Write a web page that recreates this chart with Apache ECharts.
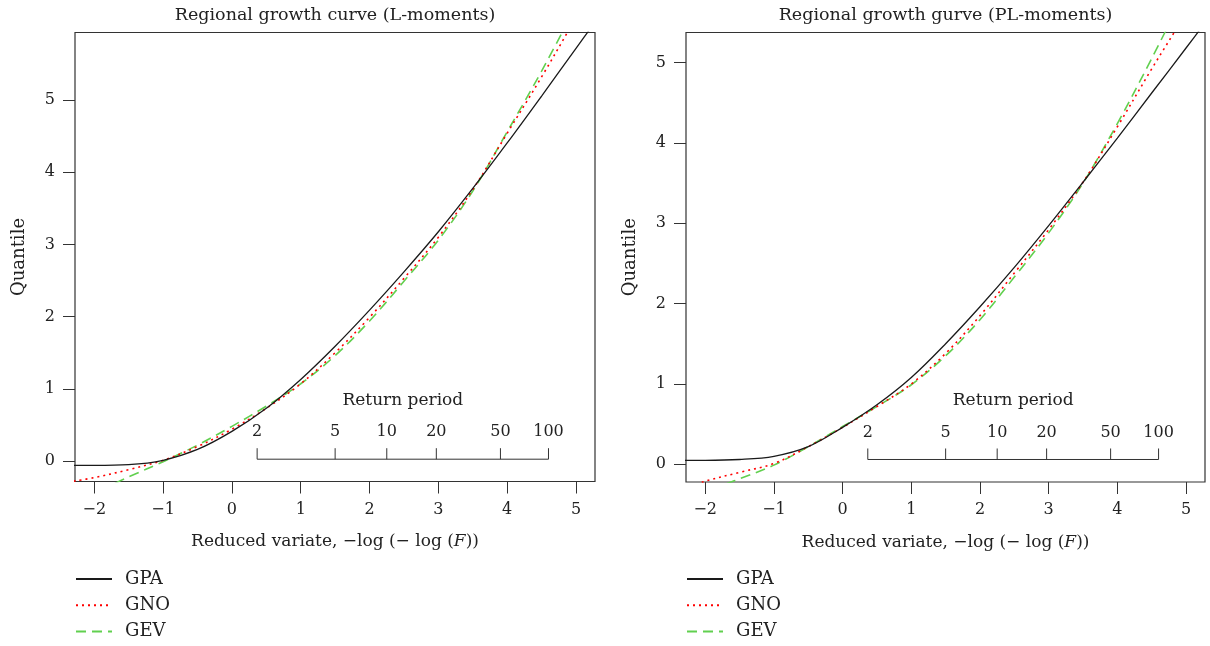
<!DOCTYPE html>
<html>
<head>
<meta charset="utf-8">
<script src="https://cdn.jsdelivr.net/npm/echarts@6/dist/echarts.min.js"></script>
<style>
  html, body { margin: 0; padding: 0; background: #fff; }
  #main { width: 1210px; height: 646px; }
</style>
</head>
<body>
<div id="main"></div>
<script>
// tick labels
const xTicks = [-2, -1, 0, 1, 2, 3, 4, 5];
const yTicks = [0, 1, 2, 3, 4, 5];
const returnPeriods = [2, 5, 10, 20, 50, 100];
const titles = ['Regional growth curve (L-moments)', 'Regional growth gurve (PL-moments)'];
const names = ['GPA', 'GNO', 'GEV'];

// reduced variate grid used by the curves
const xFull = [-2.3, -2, -1.5, -1, -0.5, 0, 0.5, 1, 1.5, 2, 2.5, 3, 3.5, 4, 4.5, 5, 5.3];
const xGev = [-1.7, -1.5, -1, -0.5, 0, 0.5, 1, 1.5, 2, 2.5, 3, 3.5, 4, 4.5, 5];

// L-moments panel
const gpaL = [-0.06, -0.06, -0.05, 0.01, 0.16, 0.41, 0.73, 1.13, 1.59, 2.09, 2.62, 3.175, 3.775, 4.405, 5.055, 5.715, 6.11];
const gnoL = [-0.28, -0.23, -0.12, 0.01, 0.2, 0.44, 0.73, 1.07, 1.5, 1.99, 2.53, 3.1, 3.76, 4.54, 5.32, 6.15, 6.7];
const gevL = [-0.31, -0.22, -0.01, 0.22, 0.48, 0.76, 1.07, 1.46, 1.94, 2.49, 3.06, 3.74, 4.56, 5.4, 6.3];

// PL-moments panel
const gpaP = [0.05, 0.05, 0.06, 0.1, 0.22, 0.46, 0.74, 1.08, 1.5, 1.96, 2.45, 2.97, 3.51, 4.06, 4.62, 5.18, 5.52];
const gnoP = [-0.3, -0.21, -0.1, 0.01, 0.22, 0.46, 0.72, 1.0, 1.38, 1.85, 2.38, 2.92, 3.51, 4.2, 4.92, 5.62, 6.1];
const gevP = [-0.245, -0.18, -0.01, 0.22, 0.47, 0.72, 0.99, 1.35, 1.8, 2.33, 2.88, 3.5, 4.24, 5.05, 5.9];

const yRange = [[-0.284, 5.935], [-0.22, 5.373]];
const rpBase = [0.025, 0.06];

const FONT = '"DejaVu Serif", serif';
const INK = '#222';

function pairs(xs, ys) {
  return ys.map((y, i) => [xs[i], y]);
}

function fmt(v) {
  return v < 0 ? '\u2212' + Math.abs(v) : String(v);
}

function rpRender(base) {
  return function (params, api) {
    const rx = returnPeriods.map(T => -Math.log(-Math.log(1 - 1 / T)));
    const p0 = api.coord([rx[0], base]);
    const p1 = api.coord([rx[rx.length - 1], base]);
    const st = { stroke: '#333', lineWidth: 1 };
    const kids = [{ type: 'line', shape: { x1: p0[0], y1: p0[1], x2: p1[0], y2: p1[1] }, style: st }];
    rx.forEach((x, i) => {
      const p = api.coord([x, base]);
      kids.push({ type: 'line', shape: { x1: p[0], y1: p[1], x2: p[0], y2: p[1] - 11 }, style: st });
      kids.push({
        type: 'text', x: p[0], y: p[1] - 27,
        style: { text: String(returnPeriods[i]), font: '16px ' + FONT, fill: INK, align: 'center', verticalAlign: 'middle' }
      });
    });
    kids.push({
      type: 'text', x: (p0[0] + p1[0]) / 2, y: p0[1] - 59,
      style: { text: 'Return period', font: '17px ' + FONT, fill: INK, align: 'center', verticalAlign: 'middle' }
    });
    return { type: 'group', children: kids };
  };
}

const grids = [
  { left: 75, top: 32.5, width: 520, height: 449 },
  { left: 686, top: 32.5, width: 519, height: 449.5 }
];

const xAxes = grids.map((g, i) => ({
  type: 'value', gridIndex: i, min: -2.28, max: 5.276,
  name: 'Reduced variate, \u2212log (\u2212 log ({i|F}))',
  nameLocation: 'middle', nameGap: 52,
  nameTextStyle: { fontFamily: FONT, fontSize: 17, color: INK, rich: { i: { fontFamily: FONT, fontSize: 17, fontStyle: 'italic', color: INK } } },
  axisLine: { show: false, onZero: false },
  axisTick: { show: true, length: 12, customValues: xTicks, lineStyle: { color: '#333' } },
  axisLabel: { customValues: xTicks, margin: 20, formatter: fmt, fontFamily: FONT, fontSize: 16, color: INK },
  splitLine: { show: false }
}));

const yAxes = grids.map((g, i) => ({
  type: 'value', gridIndex: i, min: yRange[i][0], max: yRange[i][1],
  name: 'Quantile', nameLocation: 'middle', nameGap: 47, nameRotate: 90,
  nameTextStyle: { fontFamily: FONT, fontSize: 18, color: INK },
  axisLine: { show: false, onZero: false },
  axisTick: { show: true, length: 12, customValues: yTicks, lineStyle: { color: '#333' } },
  axisLabel: { customValues: yTicks, margin: 20, fontFamily: FONT, fontSize: 16, color: INK },
  splitLine: { show: false }
}));

const styles = [
  { color: '#1a1a1a', width: 1.3, type: 'solid' },
  { color: '#ff0000', width: 1.6, type: [2, 4] },
  { color: '#61D04F', width: 1.6, type: [10, 6] }
];

const panelData = [
  [pairs(xFull, gpaL), pairs(xFull, gnoL), pairs(xGev, gevL)],
  [pairs(xFull, gpaP), pairs(xFull, gnoP), pairs(xGev, gevP)]
];

const series = [];
panelData.forEach((curves, p) => {
  curves.forEach((d, k) => {
    series.push({
      name: names[k], type: 'line', xAxisIndex: p, yAxisIndex: p,
      data: d, smooth: 0.35, symbol: 'none', clip: true,
      itemStyle: { color: styles[k].color },
      lineStyle: { color: styles[k].color, width: styles[k].width, type: styles[k].type },
      z: 3 - k
    });
  });
  series.push({
    type: 'custom', xAxisIndex: p, yAxisIndex: p,
    data: [[0, 0]], renderItem: rpRender(rpBase[p]), clip: false, silent: true
  });
});

const chart = echarts.init(document.getElementById('main'));
chart.setOption({
  animation: false,
  backgroundColor: '#fff',
  title: titles.map((t, i) => ({
    text: t, left: grids[i].left + grids[i].width / 2, top: 6, textAlign: 'center', padding: 0,
    textStyle: { fontFamily: FONT, fontSize: 17.5, fontWeight: 'normal', color: INK }
  })),
  legend: grids.map(g => ({
    data: names, orient: 'vertical', left: g.left, top: 570, height: 80, padding: 0,
    itemWidth: 36, itemHeight: 14, itemGap: 8.3, selectedMode: false,
    itemStyle: { opacity: 0 },
    textStyle: { fontFamily: FONT, fontSize: 18, color: INK, padding: [0, 0, 0, 8], lineHeight: 14 }
  })),
  grid: grids.map(g => Object.assign({ show: true, borderColor: '#333', borderWidth: 1.2, backgroundColor: 'transparent' }, g)),
  xAxis: xAxes,
  yAxis: yAxes,
  series: series
});
</script>
</body>
</html>
